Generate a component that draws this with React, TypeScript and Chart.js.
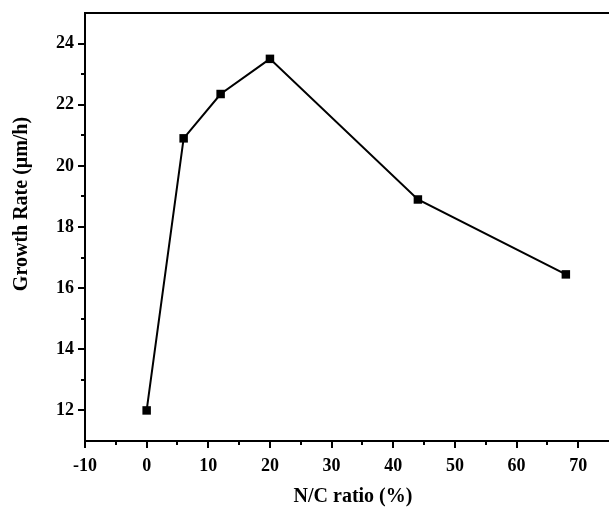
import React, { useEffect, useRef } from "react";
import { Chart, registerables } from "chart.js";

Chart.register(...registerables);

const nC = [0, 6, 12, 20, 44, 68];
const growthRate = [12.0, 20.9, 22.35, 23.5, 18.9, 16.45];
const xTicks = [-10, 0, 10, 20, 30, 40, 50, 60, 70];
const xMinorTicks = [-5, 5, 15, 25, 35, 45, 55, 65];
const yTicks = [12, 14, 16, 18, 20, 22, 24];
const yMinorTicks = [13, 15, 17, 19, 21, 23];
const xTitle = "N/C ratio (%)";
const yTitle = "Growth Rate (\u03bcm/h)";

const SERIF = "'Liberation Serif', 'Times New Roman', serif";

const tickPlugin = {
  id: "customTicks",
  afterDraw(chart: any) {
    const ctx = chart.ctx;
    const xs = chart.scales.x;
    const ys = chart.scales.y;
    const { left, right, top, bottom } = chart.chartArea;
    ctx.save();
    ctx.strokeStyle = "#000";
    ctx.lineWidth = 2;
    ctx.beginPath();
    ctx.moveTo(left - 1, top);
    ctx.lineTo(right, top);
    ctx.stroke();
    const drawX = (v: number, len: number) => {
      const px = Math.round(xs.getPixelForValue(v));
      ctx.beginPath();
      ctx.moveTo(px, bottom);
      ctx.lineTo(px, bottom + len);
      ctx.stroke();
    };
    xTicks.forEach((v) => drawX(v, 7));
    xMinorTicks.forEach((v) => drawX(v, 4));
    const drawY = (v: number, len: number) => {
      const py = Math.round(ys.getPixelForValue(v));
      ctx.beginPath();
      ctx.moveTo(left, py);
      ctx.lineTo(left - len, py);
      ctx.stroke();
    };
    yTicks.forEach((v) => drawY(v, 7));
    yMinorTicks.forEach((v) => drawY(v, 4));

    ctx.fillStyle = "#000";
    ctx.font = `bold 20px ${SERIF}`;
    ctx.textAlign = "center";
    ctx.textBaseline = "middle";
    ctx.fillText(xTitle, 353, 497);
    ctx.translate(22, 204);
    ctx.rotate(-Math.PI / 2);
    ctx.fillText(yTitle, 0, 0);
    ctx.restore();
  },
};

export default function App() {
  const ref = useRef<HTMLCanvasElement>(null);
  useEffect(() => {
    document.body.style.margin = "0";
    const chart = new Chart(ref.current as HTMLCanvasElement, {
      type: "line",
      data: {
        datasets: [
          {
            data: nC.map((x, i) => ({ x, y: growthRate[i] })),
            borderColor: "#000",
            backgroundColor: "#000",
            borderWidth: 2,
            pointStyle: "rect",
            pointRadius: 6,
            pointBorderWidth: 0,
            tension: 0,
          },
        ],
      },
      options: {
        animation: false,
        responsive: false,
        maintainAspectRatio: false,
        layout: { padding: { top: 13, right: 0, left: 0, bottom: 0 } },
        plugins: { legend: { display: false }, tooltip: { enabled: false } },
        scales: {
          x: {
            type: "linear",
            min: -10,
            max: 75,
            afterBuildTicks: (s: any) => {
              s.ticks = xTicks.map((v) => ({ value: v }));
            },
            afterFit: (s: any) => {
              s.height = 70;
              s.paddingLeft = 0;
              s.paddingRight = 0;
            },
            grid: { display: false, drawTicks: false },
            border: { display: true, color: "#000", width: 2 },
            ticks: {
              color: "#000",
              padding: 15,
              maxRotation: 0,
              autoSkip: false,
              font: { family: SERIF, size: 18, weight: "bold" },
            },
          },
          y: {
            type: "linear",
            min: 11,
            max: 25,
            afterBuildTicks: (s: any) => {
              s.ticks = yTicks.map((v) => ({ value: v }));
            },
            afterFit: (s: any) => {
              s.width = 85;
              s.paddingTop = 0;
              s.paddingBottom = 0;
            },
            grid: { display: false, drawTicks: false },
            border: { display: true, color: "#000", width: 2 },
            ticks: {
              color: "#000",
              padding: 11,
              autoSkip: false,
              font: { family: SERIF, size: 18, weight: "bold" },
            },
          },
        },
      },
      plugins: [tickPlugin],
    } as any);
    return () => chart.destroy();
  }, []);
  return (
    <div style={{ position: "absolute", left: 0, top: 0, width: 609, height: 511, overflow: "hidden" }}>
      <canvas ref={ref} width={615} height={511} style={{ display: "block" }} />
    </div>
  );
}
